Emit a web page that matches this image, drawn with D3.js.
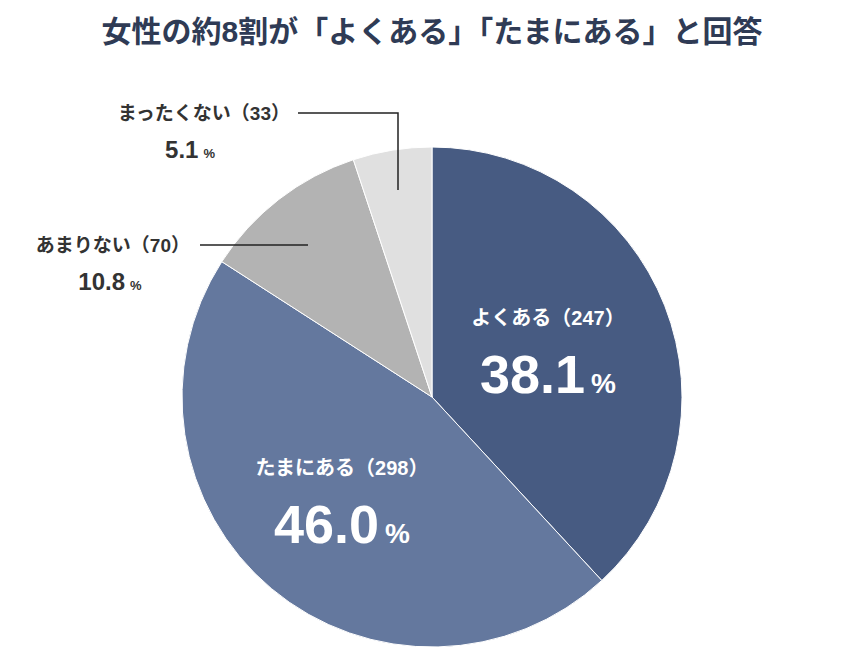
<!DOCTYPE html>
<html><head><meta charset="utf-8">
<script src="https://cdn.jsdelivr.net/npm/d3@7"></script>
<style>
body{margin:0;background:#fff;}
text{font-family:"Liberation Sans","Noto Sans CJK JP",sans-serif;font-weight:bold;}
</style></head>
<body><svg id="c" width="864" height="648"></svg>
<script>
const categories = ['よくある', 'たまにある', 'あまりない', 'まったくない'];
const counts = [247, 298, 70, 33];
const percents = ['38.1', '46.0', '10.8', '5.1'];
const colors = ['#475b82', '#64789e', '#b3b3b3', '#e0e0e0'];

const svg = d3.select('#c');
const cx = 432, cy = 397, r = 250;

svg.append('text').attr('x', 432).attr('y', 42).attr('text-anchor', 'middle')
    .attr('font-size', 30).attr('fill', '#2f3b55')
    .text('女性の約8割が「よくある」「たまにある」と回答');

const pie = d3.pie().sort(null)(counts);
const arc = d3.arc().innerRadius(0).outerRadius(r);
const g = svg.append('g').attr('transform', `translate(${cx},${cy})`);
g.selectAll('path').data(pie).enter().append('path')
    .attr('d', arc).attr('fill', (d, i) => colors[i])
    .attr('stroke', '#fff').attr('stroke-width', 1);

//Inside labels for the two big slices.
const inner = [{i: 0, x: 548, y: 325}, {i: 1, x: 342, y: 475}];
inner.forEach(p => {
    svg.append('text').attr('x', p.x).attr('y', p.y).attr('text-anchor', 'middle')
        .attr('font-size', 20).attr('fill', '#fff')
        .text(`${categories[p.i]}（${counts[p.i]}）`);
    const t = svg.append('text').attr('x', p.x).attr('y', p.y + 68).attr('text-anchor', 'middle')
        .attr('fill', '#fff');
    t.append('tspan').attr('font-size', 54).text(percents[p.i]);
    t.append('tspan').attr('font-size', 28).attr('dx', 6).text('%');
});

//Outside labels with leader lines.
const outer = [
    {i: 3, x: 290, y: 120, px: 190, line: [[298, 113], [398, 113], [398, 190]]},
    {i: 2, x: 190, y: 252, px: 110, line: [[200, 245], [308, 245]]}
];
outer.forEach(p => {
    svg.append('text').attr('x', p.x).attr('y', p.y).attr('text-anchor', 'end')
        .attr('font-size', 19).attr('fill', '#333')
        .text(`${categories[p.i]}（${counts[p.i]}）`);
    const t = svg.append('text').attr('x', p.px).attr('y', p.y + 38).attr('text-anchor', 'middle')
        .attr('fill', '#333');
    t.append('tspan').attr('font-size', 24).text(percents[p.i]);
    t.append('tspan').attr('font-size', 13).attr('dx', 5).text('%');
    svg.append('path').attr('d', d3.line()(p.line))
        .attr('fill', 'none').attr('stroke', '#222').attr('stroke-width', 1.5);
});
</script></body></html>
